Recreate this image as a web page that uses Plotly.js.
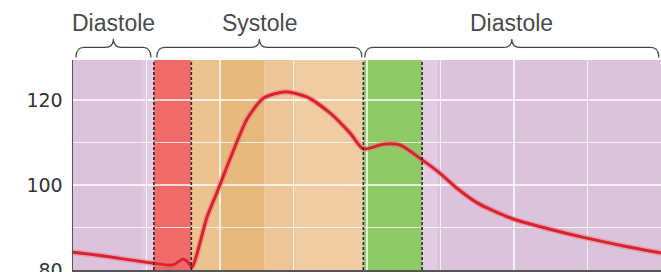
<!DOCTYPE html>
<html>
<head>
<meta charset="utf-8">
<script src="https://cdn.plot.ly/plotly-3.0.1.min.js"></script>
<style>
  html, body { margin: 0; padding: 0; background: #ffffff; }
  #chart { width: 661px; height: 272px; }
</style>
</head>
<body>
<div id="chart"></div>
<script>
// Time (s) and aortic pressure (mmHg)
var timeS = [0, 0.037, 0.110, 0.136, 0.150, 0.156, 0.162, 0.169, 0.182, 0.196, 0.207, 0.218, 0.237, 0.259, 0.288, 0.318, 0.350, 0.377, 0.395, 0.422, 0.445, 0.475, 0.499, 0.522, 0.550, 0.599, 0.649, 0.699, 0.751, 0.800];
var pressure = [84.2, 83.4, 81.6, 81.2, 82.6, 81.9, 80.7, 84.0, 92.3, 98.3, 103.2, 108.0, 115.6, 120.4, 121.9, 120.7, 116.9, 112.2, 108.5, 109.6, 109.4, 105.9, 102.8, 99.3, 95.8, 92.0, 89.6, 87.5, 85.6, 84.0];

// Phase bands (s) and colours
var bandStart = [0.000, 0.095, 0.110, 0.161, 0.200, 0.260, 0.300, 0.395, 0.475, 0.495];
var bandEnd   = [0.095, 0.110, 0.161, 0.200, 0.260, 0.300, 0.395, 0.475, 0.495, 0.800];
var bandColor = ['#dcc3dc', '#e2cae2', '#ef6a68', '#ecc28e', '#e8b97c', '#edc596', '#f0cca2', '#8fca66', '#e3cce3', '#dcc3dc'];

// Dashed phase boundaries (s)
var boundaries = [0.110, 0.161, 0.395, 0.475];

// Top braces
var braceLabels = ['Diastole', 'Systole', 'Diastole'];
var braceStart = [0.004, 0.114, 0.397];
var braceEnd = [0.106, 0.393, 0.797];

// Y tick labels
var yTickVals = [80, 90, 100, 110, 120];
var yTickText = ['80', '', '100', '', '120'];

var shapes = [];
for (var i = 0; i < bandStart.length; i++) {
  shapes.push({type: 'rect', xref: 'x', yref: 'paper', x0: bandStart[i], x1: bandEnd[i], y0: 0, y1: 1,
    fillcolor: bandColor[i], line: {width: 0}, layer: 'below'});
}
for (var j = 0; j < boundaries.length; j++) {
  shapes.push({type: 'line', xref: 'x', yref: 'paper', x0: boundaries[j], x1: boundaries[j], y0: 0, y1: 1,
    line: {color: '#2a2a2a', width: 1.6, dash: '3px,2px'}, layer: 'above'});
}
var yEnd = 1.012, yLine = 1.06, yTip = 1.1, r = 0.011;
var annotations = [];
for (var k = 0; k < braceLabels.length; k++) {
  var a = braceStart[k], b = braceEnd[k], m = (a + b) / 2;
  var p = 'M ' + a + ',' + yEnd +
    ' Q ' + a + ',' + yLine + ' ' + (a + r) + ',' + yLine +
    ' L ' + (m - r) + ',' + yLine +
    ' Q ' + m + ',' + yLine + ' ' + m + ',' + yTip +
    ' Q ' + m + ',' + yLine + ' ' + (m + r) + ',' + yLine +
    ' L ' + (b - r) + ',' + yLine +
    ' Q ' + b + ',' + yLine + ' ' + b + ',' + yEnd;
  shapes.push({type: 'path', xref: 'x', yref: 'paper', path: p, line: {color: '#444', width: 1.2}});
  annotations.push({xref: 'x', yref: 'paper', x: m, y: 1.175, text: braceLabels[k], showarrow: false,
    xanchor: 'center', yanchor: 'middle', font: {family: 'Liberation Sans, Arial, sans-serif', size: 23, color: '#4a4a4a'}});
}

var traces = [
  {x: timeS, y: pressure, type: 'scatter', mode: 'lines', hoverinfo: 'skip',
   line: {color: 'rgba(240,110,125,0.45)', width: 6, shape: 'spline', smoothing: 0.7}},
  {x: timeS, y: pressure, type: 'scatter', mode: 'lines',
   line: {color: '#d8232f', width: 3, shape: 'spline', smoothing: 0.7}}
];

var layout = {
  width: 661, height: 272,
  margin: {l: 73, r: 0, t: 60, b: 2},
  paper_bgcolor: '#ffffff',
  plot_bgcolor: 'rgba(0,0,0,0)',
  showlegend: false,
  xaxis: {range: [0, 0.8], dtick: 0.1, tick0: 0, showticklabels: false, ticks: '',
    showgrid: true, gridcolor: 'rgba(255,255,255,0.75)', gridwidth: 1.5, zeroline: false,
    showline: true, linecolor: '#555', linewidth: 1.5, fixedrange: true},
  yaxis: {range: [80, 129.4], tickvals: yTickVals, ticktext: yTickText, ticks: '',
    showgrid: true, gridcolor: 'rgba(255,255,255,0.75)', gridwidth: 1.5, zeroline: false,
    showline: true, linecolor: '#555', linewidth: 1.5, ticklabelstandoff: 5, ticklabeloverflow: 'allow',
    tickfont: {family: 'DejaVu Sans, sans-serif', size: 19, color: '#333'}, fixedrange: true},
  shapes: shapes,
  annotations: annotations
};

Plotly.newPlot('chart', traces, layout, {displayModeBar: false, staticPlot: true});
</script>
</body>
</html>
